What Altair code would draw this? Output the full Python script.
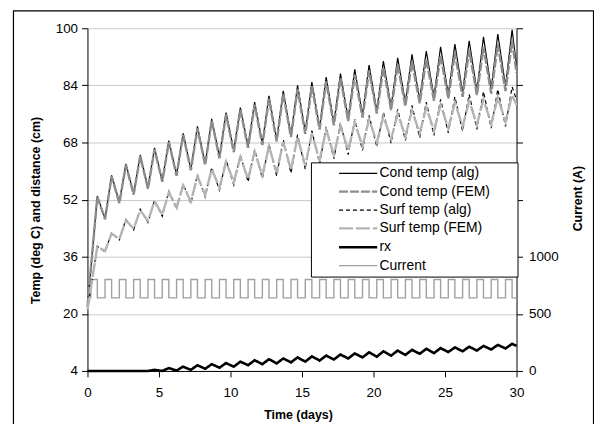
import altair as alt
import pandas as pd

# ---------------- data ----------------
names = ["Cond temp (alg)", "Cond temp (FEM)", "Surf temp (alg)",
         "Surf temp (FEM)", "rx", "Current"]
colors = ["#000000", "#8c8c8c", "#000000", "#b4b4b4", "#000000", "#a0a0a0"]
dashes = [[1, 0], [9, 2], [4, 3], [14, 3], [1, 0], [1, 0]]
widths = [1.2, 2.4, 1.2, 2.4, 2.6, 1.4]

# daily cycle times (days): peaks and troughs
peak_t = [0.69, 1.69, 2.69, 3.69, 4.69, 5.69, 6.69, 7.69, 8.69, 9.69,
          10.69, 11.69, 12.69, 13.69, 14.69, 15.69, 16.69, 17.69, 18.69, 19.69,
          20.69, 21.69, 22.69, 23.69, 24.69, 25.69, 26.69, 27.69, 28.69, 29.69]
trough_t = [1.23, 2.23, 3.23, 4.23, 5.23, 6.23, 7.23, 8.23, 9.23, 10.23,
            11.23, 12.23, 13.23, 14.23, 15.23, 16.23, 17.23, 18.23, 19.23, 20.23,
            21.23, 22.23, 23.23, 24.23, 25.23, 26.23, 27.23, 28.23, 29.23]

cond_start = 22.0
cond_alg_peaks = [53.0, 58.8, 62.0, 64.5, 66.5, 68.5, 70.6, 72.5, 74.6, 76.4,
                  77.8, 79.3, 81.1, 82.5, 84.0, 84.9, 86.3, 87.3, 88.5, 89.7,
                  90.8, 91.7, 92.7, 93.6, 94.8, 95.6, 96.5, 97.6, 98.4, 99.6]
cond_alg_troughs = [46.7, 51.3, 53.7, 55.3, 57.3, 59.0, 60.6, 62.0, 64.0, 65.8,
                    67.0, 67.8, 68.8, 70.0, 71.0, 72.2, 73.5, 74.7, 75.8, 76.9,
                    78.0, 79.2, 80.0, 80.8, 81.4, 82.0, 82.5, 83.0, 83.8]
cond_alg_end = 89.5

cond_fem_peaks = [52.8, 58.5, 61.7, 64.2, 66.1, 68.1, 70.2, 72.0, 74.1, 75.9,
                  77.2, 78.6, 80.3, 81.6, 83.0, 83.8, 85.1, 86.0, 87.0, 88.1,
                  89.0, 89.8, 90.6, 91.4, 92.4, 93.1, 93.9, 94.8, 95.5, 96.5]
cond_fem_troughs = [46.5, 51.0, 53.4, 55.0, 57.0, 58.7, 60.2, 61.6, 63.6, 65.3,
                    66.5, 67.3, 68.3, 69.5, 70.4, 71.6, 72.8, 74.0, 75.0, 76.1,
                    77.1, 78.2, 79.0, 79.7, 80.3, 80.8, 81.3, 81.7, 82.4]
cond_fem_end = 87.5

surf_start = 21.0
surf_alg_peaks = [38.9, 42.7, 46.5, 49.3, 51.8, 54.4, 56.4, 59.0, 61.0, 63.1,
                  64.5, 66.0, 67.5, 68.8, 70.2, 71.3, 72.4, 73.5, 74.5, 75.6,
                  76.5, 77.3, 78.4, 79.3, 80.1, 80.8, 81.5, 82.3, 82.9, 83.6]
surf_alg_troughs = [37.4, 40.7, 43.5, 45.6, 47.3, 49.3, 50.9, 52.7, 54.6, 56.1,
                    57.0, 57.9, 58.6, 59.4, 60.5, 62.0, 63.4, 64.6, 65.8, 66.8,
                    67.8, 68.6, 69.3, 70.0, 70.7, 71.2, 71.7, 72.0, 72.5]
surf_alg_end = 80.0

surf_fem_peaks = [38.8, 42.5, 46.2, 49.0, 51.5, 54.0, 56.0, 58.5, 60.5, 62.6,
                  63.9, 65.4, 66.9, 68.1, 69.5, 70.5, 71.6, 72.6, 73.5, 74.5,
                  75.3, 76.0, 77.0, 77.8, 78.5, 79.1, 79.6, 80.1, 80.6, 81.3]
surf_fem_troughs = [37.6, 41.0, 43.9, 46.0, 47.8, 49.8, 51.5, 53.3, 55.3, 56.9,
                    57.8, 58.8, 59.6, 60.4, 61.5, 63.0, 64.5, 65.8, 67.0, 68.0,
                    69.0, 69.8, 70.6, 71.3, 72.0, 72.5, 73.0, 73.3, 73.8]
surf_fem_end = 78.5

# rx (distance, cm) - flat until day 4, then daily ripple (days 4..29)
rx_start = 4.0
rx_troughs = [4.0, 4.0, 4.1, 4.3, 4.6, 4.9, 5.2, 5.6, 5.9, 6.1, 6.4, 6.6, 6.9,
              7.2, 7.5, 7.8, 8.0, 8.3, 8.5, 8.8, 9.0, 9.3, 9.5, 9.7, 10.0, 10.3]
rx_peaks = [4.3, 4.8, 5.2, 5.6, 5.9, 6.2, 6.6, 7.0, 7.3, 7.5, 7.8, 8.1, 8.3,
            8.6, 8.9, 9.2, 9.5, 9.7, 9.9, 10.2, 10.4, 10.6, 10.8, 11.0, 11.3, 11.6]
rx_end = 11.0

# current (A): square wave, switched on at first_on + trough_t, off at peak_t
cur_low = 640
cur_high = 800
first_on = 0.23

left_ticks = [4, 20, 36, 52, 68, 84, 100]
right_ticks = [0, 500, 1000, 1500, 2000, 2500, 3000]
x_ticks = [0, 5, 10, 15, 20, 25, 30]


# ---------------- assemble tables ----------------
def cycle_series(start, peaks, troughs, end):
    ts, vs = [0.0, peak_t[0]], [start, peaks[0]]
    for i in range(1, len(peaks)):
        ts += [trough_t[i - 1], peak_t[i]]
        vs += [troughs[i - 1], peaks[i]]
    ts.append(30.0)
    vs.append(end)
    return ts, vs


rows = []
for name, (ts, vs) in [
    (names[0], cycle_series(cond_start, cond_alg_peaks, cond_alg_troughs, cond_alg_end)),
    (names[1], cycle_series(cond_start, cond_fem_peaks, cond_fem_troughs, cond_fem_end)),
    (names[2], cycle_series(surf_start, surf_alg_peaks, surf_alg_troughs, surf_alg_end)),
    (names[3], cycle_series(surf_start, surf_fem_peaks, surf_fem_troughs, surf_fem_end)),
]:
    rows += [{"t": t, "v": v, "series": name} for t, v in zip(ts, vs)]

rx_ts, rx_vs = [0.0], [rx_start]
for k, n in enumerate(range(4, 30)):
    rx_ts += [trough_t[n - 1], peak_t[n]]
    rx_vs += [rx_troughs[k], rx_peaks[k]]
rx_ts.append(30.0)
rx_vs.append(rx_end)
rows += [{"t": t, "v": v, "series": names[4]} for t, v in zip(rx_ts, rx_vs)]
df_left = pd.DataFrame(rows)

on_t = [first_on] + trough_t
cur_ts, cur_vs = [0.0], [cur_low]
for a, b in zip(on_t, peak_t):
    cur_ts += [a, b]
    cur_vs += [cur_high, cur_low]
cur_ts.append(30.0)
cur_vs.append(cur_low)
df_cur = pd.DataFrame({"t": cur_ts, "v": cur_vs, "series": names[5]})

frame_df = pd.DataFrame({"k": [0]})

# ---------------- chart ----------------
FONT = "Liberation Sans, Arial, sans-serif"
W, H = 432, 345

legend = alt.Legend(
    title=None, orient="none", legendX=225, legendY=135,
    symbolType="M-3.2,0H3.2", symbolSize=144, symbolOffset=36,
    labelOffset=14, padding=4, rowPadding=4,
    labelFont=FONT, labelFontSize=14, labelColor="black",
    labelExpr="datum.label + '\u00a0\u00a0\u00a0\u00a0\u00a0\u00a0\u200b'",
    strokeColor="black", fillColor="white",
)

color_enc = alt.Color("series:N", scale=alt.Scale(domain=names, range=colors), legend=legend)
dash_enc = alt.StrokeDash("series:N", scale=alt.Scale(domain=names, range=dashes), legend=legend)
width_enc = alt.StrokeWidth("series:N", scale=alt.Scale(type="ordinal", domain=names, range=widths),
                            legend=legend)

x_axis = alt.Axis(values=x_ticks, title="Time (days)", titleX=212, titleY=44,
                  titleAlign="center", titleBaseline="middle",
                  tickSize=6, labelPadding=9, grid=False, labelFlush=False,
                  labelAngle=0, labelFontSize=13.5, titleFontSize=12.5)
x_enc = alt.X("t:Q", scale=alt.Scale(domain=[0, 30], nice=False), axis=x_axis)

left = alt.Chart(df_left).mark_line(strokeCap="butt", strokeJoin="miter").encode(
    x=x_enc,
    y=alt.Y("v:Q", scale=alt.Scale(domain=[4, 100], nice=False, zero=False),
            axis=alt.Axis(orient="left", values=left_ticks,
                          title="Temp (deg C) and distance (cm)",
                          titleAngle=270, titleX=-52, titleY=183,
                          titleAlign="center", titleBaseline="middle",
                          tickSize=6, labelPadding=4, grid=True, gridColor="#c8c8c8",
                          labelFlush=False, labelFontSize=13.5, titleFontSize=12.5)),
    color=color_enc, strokeDash=dash_enc, strokeWidth=width_enc,
)

current = alt.Chart(df_cur).mark_line(interpolate="step-after").encode(
    x=x_enc,
    y=alt.Y("v:Q", scale=alt.Scale(domain=[0, 3000], nice=False),
            axis=alt.Axis(orient="right", values=right_ticks, format="d",
                          labelExpr="datum.value <= 1000 ? datum.label : ''",
                          title="Current (A)", titleAngle=270, titleX=61, titleY=171,
                          titleAlign="center", titleBaseline="middle",
                          tickSize=6, labelPadding=6, grid=False, labelFlush=False,
                          labelFontSize=13.5, titleFontSize=12.5)),
    color=color_enc, strokeDash=dash_enc, strokeWidth=width_enc,
)

frame = alt.Chart(frame_df).mark_rect(fillOpacity=0, stroke="black", strokeWidth=1.2).encode(
    x=alt.value(-74.5), x2=alt.value(509.5), y=alt.value(-17.5), y2=alt.value(430),
)

chart = alt.layer(frame, current, left).resolve_scale(
    y="independent"
).properties(
    width=W, height=H, autosize="none",
    padding={"left": 80, "top": 19, "right": 78, "bottom": 52},
    background="white",
).configure_axis(
    labelFont=FONT, titleFont=FONT, labelColor="black", titleColor="black",
    domainColor="black", tickColor="black", titleFontWeight="bold",
).configure_view(strokeWidth=0)

chart.save("out.html", embed_options={"renderer": "svg", "actions": False})
